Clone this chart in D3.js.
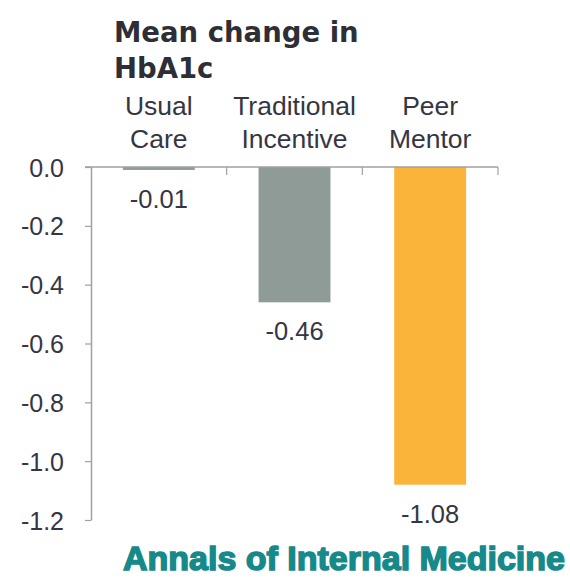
<!DOCTYPE html>
<html>
<head>
<meta charset="utf-8">
<script src="https://cdn.jsdelivr.net/npm/d3@7"></script>
<style>
  html, body { margin: 0; padding: 0; background: #fff; }
  svg { display: block; }
</style>
</head>
<body>
<svg id="chart" width="570" height="580"></svg>
<script>
// Mean change in HbA1c by study arm
const categories = ["Usual Care", "Traditional Incentive", "Peer Mentor"];
const categoryLines = [["Usual", "Care"], ["Traditional", "Incentive"], ["Peer", "Mentor"]];
const values = [-0.01, -0.46, -1.08];
const valueLabels = ["-0.01", "-0.46", "-1.08"];
const barColors = ["#8f9b97", "#8f9b97", "#fbb43a"];
const yTicks = [0.0, -0.2, -0.4, -0.6, -0.8, -1.0, -1.2];

const svg = d3.select("#chart");
const textColor = "#363643";
const axisColor = "#a0a0a0";
const labelFont = "'Liberation Sans', Arial, sans-serif";

const x = d3.scaleBand().domain(categories).range([91, 498]).paddingInner(0.47).paddingOuter(0.235);
const y = d3.scaleLinear().domain([0, -1.2]).range([167, 520]);

// Title
const title = svg.append("text")
  .attr("font-family", "'DejaVu Sans', sans-serif")
  .attr("font-weight", "bold")
  .attr("font-size", 27.5)
  .attr("fill", "#2e2e36");
title.append("tspan").attr("x", 114).attr("y", 42).text("Mean change in");
title.append("tspan").attr("x", 114).attr("y", 78).text("HbA1c");

// Category headings
const heads = svg.append("g");
categories.forEach((c, i) => {
  const cx = x(c) + x.bandwidth() / 2;
  categoryLines[i].forEach((line, j) => {
    heads.append("text")
      .attr("x", cx).attr("y", 115 + j * 33)
      .attr("text-anchor", "middle")
      .attr("font-family", labelFont)
      .attr("font-size", 26.5)
      .attr("fill", textColor)
      .text(line);
  });
});

// Bars
svg.append("g").selectAll("rect")
  .data(values)
  .join("rect")
  .attr("x", (d, i) => x(categories[i]))
  .attr("width", x.bandwidth())
  .attr("y", y(0))
  .attr("height", d => Math.max(2.5, y(d) - y(0)))
  .attr("fill", (d, i) => barColors[i]);

// Value labels under each bar
svg.append("g").selectAll("text")
  .data(values)
  .join("text")
  .attr("x", (d, i) => x(categories[i]) + x.bandwidth() / 2)
  .attr("y", d => y(d) + 38)
  .attr("text-anchor", "middle")
  .attr("font-family", labelFont)
  .attr("font-size", 25.5)
  .attr("fill", textColor)
  .text((d, i) => valueLabels[i]);

// Y axis
const yAxis = svg.append("g")
  .attr("transform", "translate(91,0)")
  .call(d3.axisLeft(y).tickValues(yTicks).tickFormat(d3.format(".1f")).tickSize(6).tickSizeOuter(0));
yAxis.select(".domain").attr("stroke", axisColor).attr("stroke-width", 1.5);
yAxis.selectAll(".tick line").attr("stroke", axisColor).attr("stroke-width", 1.2);
yAxis.selectAll(".tick text")
  .attr("x", -27)
  .attr("dy", "0.36em")
  .attr("font-family", labelFont)
  .attr("font-size", 25)
  .attr("fill", textColor)
  .text(d => d3.format(".1f")(d).replace("−", "-"));

// Category axis along zero
const xAxis = svg.append("g")
  .attr("transform", `translate(0,${y(0)})`);
xAxis.append("line")
  .attr("x1", 85).attr("x2", 498)
  .attr("stroke", axisColor).attr("stroke-width", 1.5);
const boundaries = categories.map(c => x(c) + x.bandwidth() + x.step() * x.paddingInner() / 2);
xAxis.selectAll("line.tick")
  .data(boundaries)
  .join("line")
  .attr("class", "tick")
  .attr("x1", d => d).attr("x2", d => d)
  .attr("y1", 0).attr("y2", 8)
  .attr("stroke", axisColor).attr("stroke-width", 1.2);

// Footer
svg.append("text")
  .attr("x", 123).attr("y", 570)
  .attr("font-family", "'Liberation Sans', Arial, sans-serif")
  .attr("font-weight", "bold")
  .attr("font-size", 34)
  .attr("textLength", 442)
  .attr("lengthAdjust", "spacingAndGlyphs")
  .attr("fill", "#16898a")
  .attr("stroke", "#16898a")
  .attr("stroke-width", 1.5)
  .text("Annals of Internal Medicine");
</script>
</body>
</html>
